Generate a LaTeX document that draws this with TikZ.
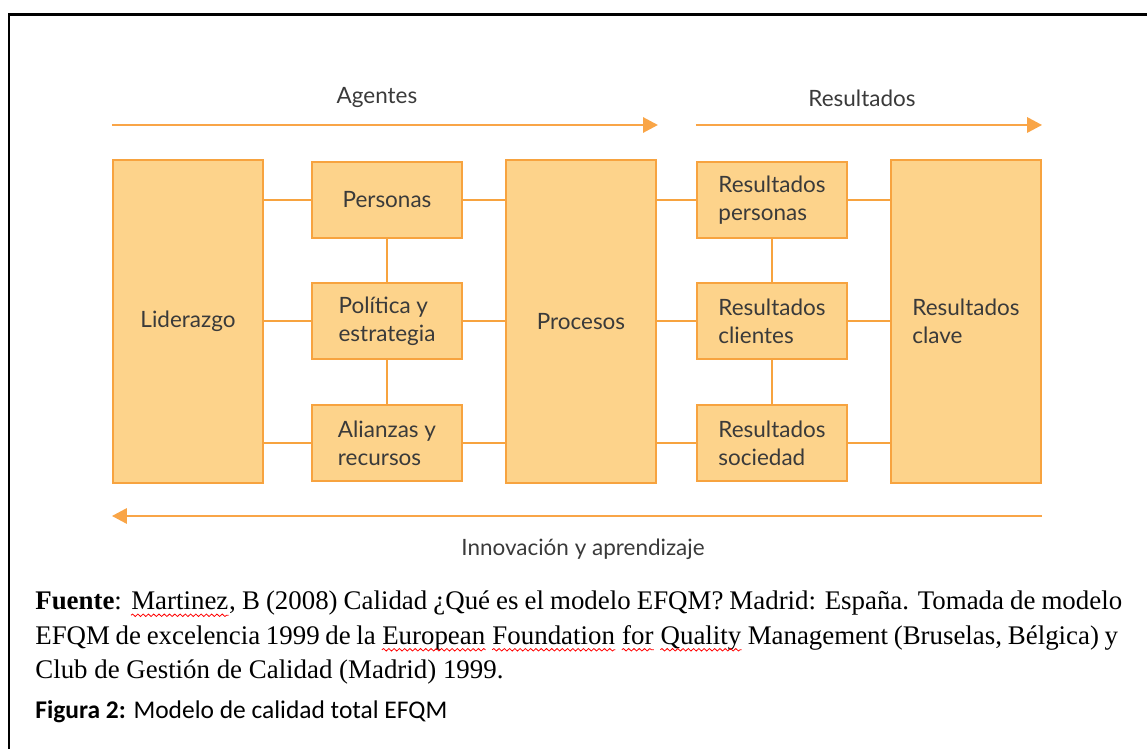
\documentclass[tikz,border=0pt]{standalone}
\usepackage{fontspec}
\setmainfont{Liberation Serif}
\newfontfamily\boxfont{Lato}
\newfontfamily\capfont{Carlito}
\usetikzlibrary{arrows.meta,positioning,calc,decorations.pathmorphing}
\definecolor{boxfill}{HTML}{FDD38B}
\definecolor{boxline}{HTML}{F7A33F}
\definecolor{arrowline}{HTML}{F9A547}
\definecolor{labeltext}{HTML}{3A3A3A}
% red wavy spelling mark under a word
\newcommand\spellmark[1]{\tikz[baseline=(w.base)]{\node[inner sep=0pt, anchor=base] (w) at (0,0) {#1};
    \draw[red, line width=0.45pt, decorate, decoration={snake, amplitude=0.7pt, segment length=3pt}] ([yshift=-3pt]w.base west) -- ([yshift=-3pt]w.base east);}}

\begin{document}
\begin{tikzpicture}[x=0.02cm,y=-0.02cm]
    % Define node styles
    \tikzstyle{block}=[draw=boxline, fill=boxfill, line width=1.3pt, text=labeltext, font=\boxfont\fontsize{12.8}{16}\selectfont, align=left, inner sep=0pt]
    \tikzstyle{tall block}=[block, minimum width=3cm, minimum height=6.46cm]
    \tikzstyle{small block}=[block, minimum width=3cm, minimum height=1.52cm]
    \tikzstyle{link}=[draw=boxline, line width=1.1pt]
    \tikzstyle{flow}=[draw=arrowline, line width=1.7pt, -{Triangle[length=8.5pt,width=8.5pt]}]
    \tikzstyle{flow label}=[text=labeltext, font=\boxfont\fontsize{12.8}{16}\selectfont]
    \tikzstyle{source}=[anchor=base west, inner sep=0pt, font=\fontsize{15.3}{18}\selectfont]

    \useasboundingbox (0,0) rectangle (1147,749);

    % Frame
    \draw[line width=1.7pt] (1147,15) -- (9,15) -- (9,749);

    % Agentes
    \node[tall block] (lid) at (188,321.5) {Liderazgo};
    \node[small block] (per) at (387,200) {Personas};
    \node[small block] (pol) at (387,321) {Política y\\estrategia};
    \node[small block] (ali) at (387,443) {Alianzas y\\recursos};
    \node[tall block] (pro) at (581,321.5) {Procesos};

    % Resultados
    \node[small block] (rper) at (772,200) {Resultados\\personas};
    \node[small block] (rcli) at (772,321) {Resultados\\clientes};
    \node[small block] (rsoc) at (772,443) {Resultados\\sociedad};
    \node[tall block] (rcla) at (966,321.5) {Resultados\\clave};

    % Connect blocks
    \foreach \b in {per,pol,ali} {
        \draw[link] (\b.west -| lid.east) -- (\b.west);
        \draw[link] (\b.east) -- (\b.east -| pro.west);
    }
    \foreach \b in {rper,rcli,rsoc} {
        \draw[link] (\b.west -| pro.east) -- (\b.west);
        \draw[link] (\b.east) -- (\b.east -| rcla.west);
    }
    \draw[link] (per) -- (pol) -- (ali);
    \draw[link] (rper) -- (rcli) -- (rsoc);

    % Flow arrows
    \coordinate (ag-s) at (lid.west |- 0,125);
    \coordinate (ag-e) at (658,125);
    \coordinate (re-s) at (rper.west |- 0,125);
    \coordinate (re-e) at (rcla.east |- 0,125);
    \coordinate (in-s) at (rcla.east |- 0,516);
    \coordinate (in-e) at (lid.west |- 0,516);
    \draw[flow] (ag-s) -- (ag-e);
    \draw[flow] (re-s) -- (re-e);
    \draw[flow] (in-s) -- (in-e);
    \node[flow label] (agentes) at (377,98) {Agentes};
    \node[flow label] (resultados) at (862,98) {Resultados};
    \node[flow label] (innovacion) at (583,549) {Innovación y aprendizaje};

    % Source
    \node[source] (src1) at (35,610) {\makebox[21.74cm][s]{\textbf{Fuente}: \spellmark{Martinez}, B (2008) Calidad ¿Qué es el modelo EFQM? Madrid: España. Tomada de modelo}};
    \node[source] (src2) at (35,644.5) {\makebox[21.66cm][s]{EFQM de excelencia 1999 de la \spellmark{European} \spellmark{Foundation} \spellmark{for} \spellmark{Quality} Management (Bruselas, Bélgica) y}};
    \node[source] (src3) at (35,679) {Club de Gestión de Calidad (Madrid) 1999.};
    \node[anchor=base west, inner sep=0pt, font=\capfont\fontsize{14.5}{17}\selectfont] (fig) at (35,719) {\textbf{Figura 2:} Modelo de calidad total EFQM};
\end{tikzpicture}
\end{document}
